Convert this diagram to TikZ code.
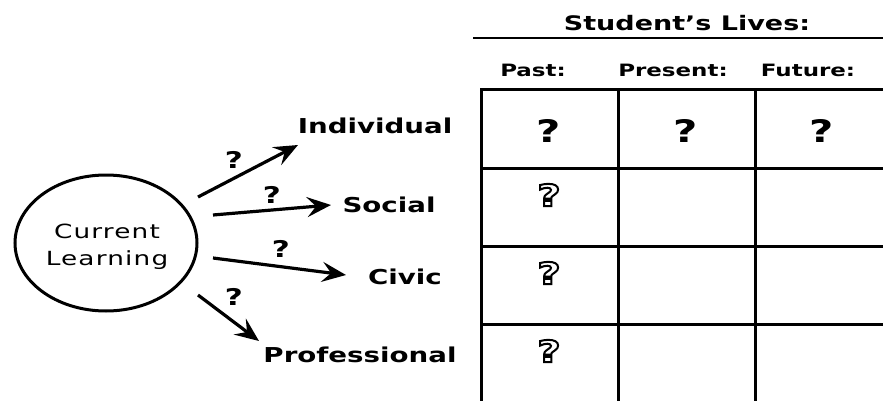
\documentclass[tikz,border=0pt]{standalone}
\usepackage{fontspec}
\setmainfont{DejaVu Sans}[FakeStretch=1.35]
\usetikzlibrary{arrows.meta,shapes.geometric}
\newcommand{\outlineq}{\special{pdf:literal 1 Tr 2 w}?\special{pdf:literal 0 Tr}}
\begin{document}
\begin{tikzpicture}[x=1pt,y=-1pt,
  lbl/.style={font=\fontsize{20.5}{22}\selectfont\bfseries, inner sep=0pt, anchor=center},
  qs/.style={font=\fontsize{23}{25}\selectfont\bfseries, inner sep=0pt},
  hdr/.style={font=\fontsize{17}{19}\selectfont\bfseries, inner sep=0pt},
  arr/.style={line width=3.2pt, -{Stealth[length=24pt,width=20pt,inset=9pt]}},
  grid/.style={line width=3pt},
  bigq/.style={font=\fontsize{31}{33}\selectfont\bfseries, inner sep=0pt},
  outq/.style={font=\fontsize{30}{32}\selectfont\bfseries, inner sep=0pt}
]
\useasboundingbox (0,0) rectangle (883,401);
% left part
\node[draw, line width=3pt, ellipse, minimum width=182pt, minimum height=136pt, inner sep=0pt] (cl) at (106,243) {};
\node[font=\fontsize{19.5}{27}\selectfont\addfontfeature{LetterSpace=6}, align=center, inner sep=0pt] (clt) at (107,247) {Current\\Learning};
\coordinate (s1) at (198,197);
\coordinate (s2) at (213,215);
\coordinate (s3) at (213,258);
\coordinate (s4) at (198,295);
\coordinate (e1) at (298,145);
\coordinate (e2) at (331,205);
\coordinate (e3) at (346,275);
\coordinate (e4) at (259,341);
\draw[arr] (s1) -- (e1);
\draw[arr] (s2) -- (e2);
\draw[arr] (s3) -- (e3);
\draw[arr] (s4) -- (e4);
\node[qs] (q1) at (234,160) {?};
\node[qs] (q2) at (272,195) {?};
\node[qs] (q3) at (281,249) {?};
\node[qs] (q4) at (234,297) {?};
\node[lbl] (ind) at (375,126) {Individual};
\node[lbl] (soc) at (389,205) {Social};
\node[lbl] (civ) at (405,277) {Civic};
\node[lbl] (pro) at (360,355) {Professional};
% right part
\node[font=\fontsize{20}{22}\selectfont\bfseries, inner sep=0pt] (title) at (687,23) {Student’s Lives:};
\draw[line width=2.8pt] (473,38) -- (883,38);
\node[hdr] (hp) at (533,70) {Past:};
\node[hdr] (hpr) at (673,70) {Present:};
\node[hdr] (hf) at (808,70) {Future:};
\draw[grid] (883,90) -- (481,90) -- (481,401);
\draw[grid] (618,90) -- (618,401);
\draw[grid] (755,90) -- (755,401);
\draw[grid] (481,168) -- (883,168);
\draw[grid] (481,246) -- (883,246);
\draw[grid] (481,324) -- (883,324);
\node[bigq] (r1a) at (549,131) {?};
\node[bigq] (r1b) at (686,131) {?};
\node[bigq] (r1c) at (822,131) {?};
\node[outq] (r2) at (549,195) {\outlineq};
\node[outq] (r3) at (549,273) {\outlineq};
\node[outq] (r4) at (549,351) {\outlineq};
\end{tikzpicture}
\end{document}
